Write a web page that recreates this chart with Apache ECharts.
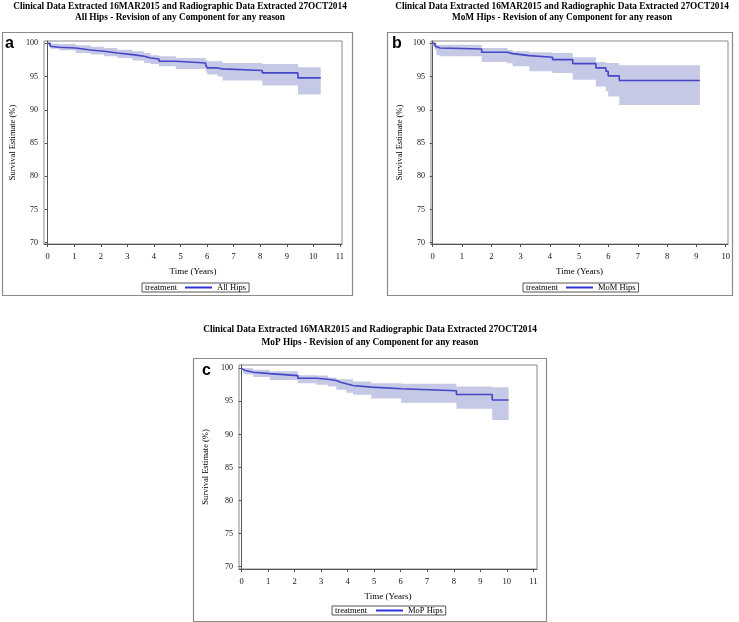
<!DOCTYPE html>
<html><head><meta charset="utf-8">
<script src="https://cdn.jsdelivr.net/npm/echarts@6/dist/echarts.min.js"></script>
<style>html,body{margin:0;padding:0;background:#fff}#c{width:739px;height:622px}</style>
</head><body><div id="c"></div>
<script>
// ---------- text ----------
const titleLine1 = 'Clinical Data Extracted 16MAR2015 and Radiographic Data Extracted 27OCT2014';
const panelTitles = ['All Hips - Revision of any Component for any reason',
                     'MoM Hips - Revision of any Component for any reason',
                     'MoP Hips - Revision of any Component for any reason'];
const panelLetters = ['a', 'b', 'c'];
const seriesNames = ['All Hips', 'MoM Hips', 'MoP Hips'];
const legendTitle = 'treatment';
const xAxisName = 'Time (Years)';
const yAxisName = 'Survival Estimate (%)';
const xTicksA = [0, 1, 2, 3, 4, 5, 6, 7, 8, 9, 10, 11];
const xTicksB = [0, 1, 2, 3, 4, 5, 6, 7, 8, 9, 10];
const xTicksC = [0, 1, 2, 3, 4, 5, 6, 7, 8, 9, 10, 11];
const yTicks = [70, 75, 80, 85, 90, 95, 100];

// ---------- data: panel a (All Hips) ----------
const aTime  = [0, 0.09, 0.11, 0.43, 1.05, 1.62, 2.12, 2.62, 3.19, 3.63, 3.88, 4.19, 4.82, 5.95, 6.01, 6.39, 6.58, 8.08, 9.42, 10.28];
const aSurv  = [100, 99.55, 99.4, 99.3, 99.0, 98.8, 98.55, 98.3, 98.05, 97.8, 97.65, 97.3, 97.05, 96.7, 96.3, 96.15, 95.9, 95.55, 94.8, 94.8];
const aUpper = [100, 100, 99.95, 99.9, 99.7, 99.5, 99.3, 99.05, 98.8, 98.55, 98.2, 98.05, 97.8, 97.5, 97.3, 97.3, 97.05, 96.9, 96.4, 96.4];
const aLower = [99.8, 99.3, 99.2, 98.95, 98.55, 98.3, 98.05, 97.8, 97.4, 97.05, 96.9, 96.55, 96.15, 95.6, 95.3, 95.0, 94.4, 93.65, 92.3, 92.3];

// ---------- data: panel b (MoM Hips) ----------
const bTime  = [0, 0.08, 0.13, 0.25, 1.67, 2.55, 2.73, 3.30, 4.09, 4.78, 5.57, 5.91, 5.99, 6.37, 9.12];
const bSurv  = [100, 99.55, 99.3, 99.15, 98.65, 98.45, 98.15, 97.9, 97.55, 96.95, 96.3, 95.8, 95.1, 94.4, 94.4];
const bUpper = [100, 100, 99.8, 99.8, 99.3, 99.0, 98.8, 98.65, 98.55, 97.9, 97.2, 97.05, 97.05, 96.7, 96.7];
const bLower = [99.6, 99.0, 98.2, 98.05, 97.2, 97.0, 96.55, 95.8, 95.55, 94.5, 93.5, 92.8, 92.0, 90.7, 90.7];

// ---------- data: panel c (MoP Hips) ----------
const cTime  = [0, 0.05, 0.11, 0.43, 1.06, 2.12, 2.82, 3.26, 3.57, 3.76, 3.95, 4.2, 4.89, 6.02, 8.1, 9.45, 10.07];
const cSurv  = [100, 99.7, 99.4, 99.2, 98.9, 98.5, 98.35, 98.15, 97.85, 97.65, 97.4, 97.15, 96.9, 96.6, 96.05, 95.2, 95.2];
const cUpper = [100, 100, 100, 99.8, 99.55, 98.95, 98.9, 98.6, 98.35, 98.35, 98.35, 98.0, 97.75, 97.65, 97.25, 97.15, 97.15];
const cLower = [99.8, 99.2, 99.05, 98.7, 98.25, 97.75, 97.5, 97.25, 96.75, 96.75, 96.3, 96.0, 95.45, 94.8, 93.9, 92.2, 92.2];

// ---------- layout / styles ----------
const SERIF = '"Liberation Serif", "DejaVu Serif", serif';
const SANS = '"Liberation Sans", Arial, sans-serif';
const LINE_COLOR = '#4646c8';
const LEGEND_LINE = '#3030d8';
const BAND_COLOR = '#c5c9e6';
const FRAME_COLOR = '#8a8a8a';

const panels = [
  { time: aTime, surv: aSurv, upper: aUpper, lower: aLower, ticks: xTicksA,
    frame: [2, 32, 350, 263], grid: { left: 44, top: 41, width: 298, height: 203 },
    xMin: -0.14, xMax: 11.08, yMin: 69.8, yMax: 100.35,
    titleX: 180, titleY: 1.5, titleLH: 10.5, letterPos: [5, 36],
    legend: { left: 142, top: 283, padL: 43 }, yGap: 27 },
  { time: bTime, surv: bSurv, upper: bUpper, lower: bLower, ticks: xTicksB,
    frame: [387, 32, 345, 263], grid: { left: 431, top: 41, width: 297, height: 203 },
    xMin: -0.058, xMax: 10.08, yMin: 69.8, yMax: 100.35,
    titleX: 562, titleY: 1.5, titleLH: 10.5, letterPos: [392, 36],
    legend: { left: 523, top: 283, padL: 43 }, yGap: 27 },
  { time: cTime, surv: cSurv, upper: cUpper, lower: cLower, ticks: xTicksC,
    frame: [193, 358, 353, 263], grid: { left: 239, top: 365, width: 298, height: 204 },
    xMin: -0.10, xMax: 11.14, yMin: 69.65, yMax: 100.5,
    titleX: 370, titleY: 323.5, titleLH: 12.5, letterPos: [202, 363],
    legend: { left: 332, top: 606, padL: 44 }, yGap: 29 }
];

function bandRenderer(p) {
  return function (params, api) {
    const n = p.time.length;
    const pts = [];
    for (let k = 0; k < n; k++) {
      const tNext = k < n - 1 ? p.time[k + 1] : p.time[k];
      pts.push(api.coord([p.time[k], p.upper[k]]));
      pts.push(api.coord([tNext, p.upper[k]]));
    }
    for (let k = n - 1; k >= 0; k--) {
      const tNext = k < n - 1 ? p.time[k + 1] : p.time[k];
      pts.push(api.coord([tNext, p.lower[k]]));
      pts.push(api.coord([p.time[k], p.lower[k]]));
    }
    return { type: 'polygon', shape: { points: pts }, style: { fill: BAND_COLOR, stroke: null } };
  };
}

const option = {
  animation: false,
  backgroundColor: '#fff',
  title: [], grid: [], xAxis: [], yAxis: [], series: [], legend: [], graphic: { elements: [] }
};

panels.forEach((p, i) => {
  option.title.push({
    text: titleLine1 + '\n' + panelTitles[i],
    left: p.titleX, top: p.titleY, textAlign: 'center', padding: 0,
    textStyle: { fontFamily: SERIF, fontWeight: 'bold', fontSize: 9.3, lineHeight: p.titleLH, color: '#000' }
  });
  option.grid.push(Object.assign({ show: true, borderColor: FRAME_COLOR, borderWidth: 1, backgroundColor: '#fff' }, p.grid));
  option.xAxis.push({
    type: 'value', gridIndex: i, min: p.xMin, max: p.xMax,
    name: xAxisName, nameLocation: 'middle', nameGap: 23,
    nameTextStyle: { fontFamily: SERIF, fontSize: 9, color: '#000' },
    axisLine: { show: true, lineStyle: { color: '#555' } },
    axisTick: { show: true, length: 3, customValues: p.ticks, lineStyle: { color: '#555' } },
    axisLabel: { customValues: p.ticks, margin: 8, fontFamily: SERIF, fontSize: 8.5, color: '#111' },
    splitLine: { show: false }
  });
  option.yAxis.push({
    type: 'value', gridIndex: i, min: p.yMin, max: p.yMax,
    name: yAxisName, nameLocation: 'middle', nameGap: p.yGap,
    nameTextStyle: { fontFamily: SERIF, fontSize: 8.5, color: '#000' },
    axisLine: { show: true, lineStyle: { color: '#555' } },
    axisTick: { show: true, length: 3, customValues: yTicks, lineStyle: { color: '#555' } },
    axisLabel: { customValues: yTicks, margin: 6, fontFamily: SERIF, fontSize: 8, color: '#111' },
    splitLine: { show: false }
  });
  option.series.push({
    name: 'band' + i, type: 'custom', xAxisIndex: i, yAxisIndex: i,
    data: [[p.time[0], p.upper[0]]], renderItem: bandRenderer(p), silent: true, z: 1
  });
  option.series.push({
    name: seriesNames[i], type: 'line', xAxisIndex: i, yAxisIndex: i, step: 'end',
    data: p.time.map((t, k) => [t, p.surv[k]]), showSymbol: false, symbol: 'none', z: 3,
    itemStyle: { color: LEGEND_LINE }, lineStyle: { color: LINE_COLOR, width: 1.6 }
  });
  option.legend.push({
    data: [{ name: seriesNames[i], icon: 'rect' }],
    left: p.legend.left, top: p.legend.top, orient: 'horizontal',
    padding: [0, 3, 0, p.legend.padL], borderColor: '#555', borderWidth: 1,
    itemWidth: 27, itemHeight: 2, selectedMode: false,
    textStyle: { fontFamily: SERIF, fontSize: 8.5, lineHeight: 9, color: '#000' }
  });
  const f = p.frame;
  option.graphic.elements.push({
    type: 'rect', shape: { x: f[0] + 0.5, y: f[1] + 0.5, width: f[2], height: f[3] },
    style: { fill: null, stroke: FRAME_COLOR, lineWidth: 1.2 }, silent: true, z: 100
  });
  option.graphic.elements.push({
    type: 'text', x: p.letterPos[0], y: p.letterPos[1],
    style: { text: panelLetters[i], font: 'bold 16px ' + SANS, fill: '#000' }, z: 100
  });
  option.graphic.elements.push({
    type: 'text', x: p.legend.left + 3, y: p.legend.top + 5,
    style: { text: legendTitle, font: '8.5px ' + SERIF, fill: '#000', verticalAlign: 'middle' }, z: 100
  });
});

const chart = echarts.init(document.getElementById('c'), null, { renderer: 'canvas' });
chart.setOption(option);
</script>
</body></html>
